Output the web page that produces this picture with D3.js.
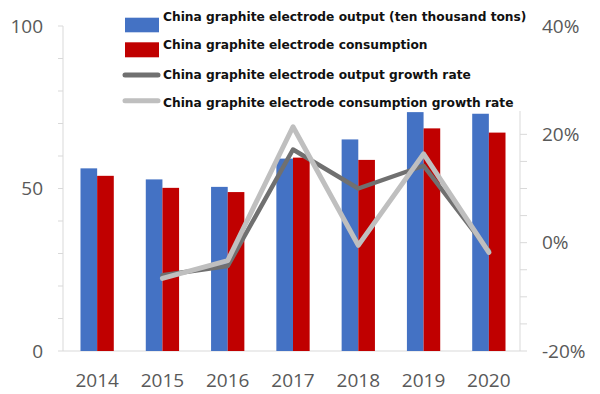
<!DOCTYPE html>
<html>
<head>
<meta charset="utf-8">
<script src="https://cdn.jsdelivr.net/npm/d3@7"></script>
<style>
  html, body { margin: 0; padding: 0; background: #fff; }
  svg { display: block; }
</style>
</head>
<body>
<svg id="chart" width="600" height="394"></svg>
<script>
const categories = ["2014", "2015", "2016", "2017", "2018", "2019", "2020"];
const outputValues = [56.2, 52.8, 50.5, 59.2, 65.1, 73.5, 73.0];
const consumptionValues = [53.9, 50.2, 48.9, 59.5, 58.8, 68.5, 67.2];
const outputGrowth = [null, -6.0, -4.3, 17.2, 10.0, 14.2, -1.5];
const consumptionGrowth = [null, -6.6, -3.3, 21.4, -0.5, 16.4, -1.8];
const leftTicks = [0, 50, 100];
const rightTicks = [-20, 0, 20, 40];
const seriesNames = [
  "China graphite electrode output (ten thousand tons)",
  "China graphite electrode consumption",
  "China graphite electrode output growth rate",
  "China graphite electrode consumption growth rate"
];
const colors = ["#4472C4", "#C00000", "#707070", "#BFBFBF"];

const svg = d3.select("#chart");
const plot = { left: 63, right: 520, top: 26, bottom: 351 };
const axisColor = "#d9d9d9";
const textColor = "#595959";
const axisFont = "'Open Sans', sans-serif";

const x = d3.scaleBand().domain(categories).range([plot.left, plot.right]).paddingInner(0).paddingOuter(0);
const yL = d3.scaleLinear().domain([0, 100]).range([plot.bottom, plot.top]);
const yR = d3.scaleLinear().domain([-20, 40]).range([plot.bottom, plot.top]);
const barW = x.bandwidth() * 0.255;

// Left axis
const gL = svg.append("g");
gL.append("line").attr("x1", plot.left).attr("x2", plot.left)
  .attr("y1", yL(100)).attr("y2", yL(0)).attr("stroke", axisColor).attr("stroke-width", 1);
gL.selectAll("line.tk").data(d3.range(0, 101, 10)).join("line").attr("class", "tk")
  .attr("x1", plot.left - 5).attr("x2", plot.left)
  .attr("y1", d => yL(d)).attr("y2", d => yL(d))
  .attr("stroke", axisColor);
gL.selectAll("text").data(leftTicks).join("text")
  .attr("x", 43).attr("y", d => yL(d)).attr("dy", "0.35em")
  .attr("text-anchor", "end").attr("font-family", axisFont).attr("font-size", 19)
  .attr("fill", textColor).text(d => d);

// Bottom axis line
svg.append("line").attr("x1", plot.left).attr("x2", plot.right)
  .attr("y1", plot.bottom).attr("y2", plot.bottom).attr("stroke", axisColor);

// Right axis
const gR = svg.append("g");
gR.append("line").attr("x1", plot.right).attr("x2", plot.right)
  .attr("y1", yR(40)).attr("y2", yR(-20)).attr("stroke", axisColor);
gR.selectAll("line.tk").data(d3.range(-20, 41, 5)).join("line").attr("class", "tk")
  .attr("x1", plot.right).attr("x2", plot.right + 7)
  .attr("y1", d => yR(d)).attr("y2", d => yR(d))
  .attr("stroke", axisColor);
gR.selectAll("text").data(rightTicks).join("text")
  .attr("x", 542).attr("y", d => yR(d)).attr("dy", "0.35em")
  .attr("text-anchor", "start").attr("font-family", axisFont).attr("font-size", 19)
  .attr("fill", textColor).text(d => d + "%");

// X labels
svg.selectAll("text.xl").data(categories).join("text").attr("class", "xl")
  .attr("x", d => x(d) + x.bandwidth() / 2 + 1.5).attr("y", 387)
  .attr("text-anchor", "middle").attr("font-family", axisFont).attr("font-size", 19)
  .attr("fill", textColor).text(d => d);

// Bars
const cx = d => x(d) + x.bandwidth() / 2 + 1.5;
svg.append("g").selectAll("rect").data(categories).join("rect")
  .attr("x", d => cx(d) - barW).attr("width", barW)
  .attr("y", (d, i) => yL(outputValues[i]))
  .attr("height", (d, i) => yL(0) - yL(outputValues[i]))
  .attr("fill", colors[0]);
svg.append("g").selectAll("rect").data(categories).join("rect")
  .attr("x", d => cx(d)).attr("width", barW)
  .attr("y", (d, i) => yL(consumptionValues[i]))
  .attr("height", (d, i) => yL(0) - yL(consumptionValues[i]))
  .attr("fill", colors[1]);

// Lines
const line = d3.line()
  .defined(d => d.v !== null)
  .x(d => cx(d.c)).y(d => yR(d.v));
svg.append("path")
  .datum(categories.map((c, i) => ({ c, v: outputGrowth[i] })))
  .attr("d", line).attr("fill", "none").attr("stroke", colors[2])
  .attr("stroke-width", 4.5).attr("stroke-linejoin", "round").attr("stroke-linecap", "round");
svg.append("path")
  .datum(categories.map((c, i) => ({ c, v: consumptionGrowth[i] })))
  .attr("d", line).attr("fill", "none").attr("stroke", colors[3])
  .attr("stroke-width", 5).attr("stroke-linejoin", "round").attr("stroke-linecap", "round");

// Legend
const lg = svg.append("g");
lg.append("rect").attr("x", 118).attr("y", 0).attr("width", 414).attr("height", 111).attr("fill", "#fff");
const rowsBase = [20.7, 49.3, 79, 107.3];
const swatchY = [[17.7, 32.3], [42.3, 57.3]];
const lineY = [75, 100.7];
// bar swatches
[0, 1].forEach(i => {
  lg.append("rect").attr("x", 125).attr("y", swatchY[i][0])
    .attr("width", 34).attr("height", swatchY[i][1] - swatchY[i][0]).attr("fill", colors[i]);
});
[0, 1].forEach(i => {
  lg.append("line").attr("x1", 125).attr("x2", 158).attr("y1", lineY[i]).attr("y2", lineY[i])
    .attr("stroke", colors[2 + i]).attr("stroke-width", 5).attr("stroke-linecap", "round");
});
const texts = lg.selectAll("text.lt").data(seriesNames).join("text").attr("class", "lt")
  .attr("x", 163).attr("y", (d, i) => rowsBase[i])
  .attr("font-family", "'DejaVu Sans', Verdana, sans-serif").attr("font-weight", "bold")
  .attr("font-size", 12).attr("fill", "#111").text(d => d);
// fit first label to measured width
const w0 = texts.nodes()[0].getComputedTextLength();
const fs = 12 * 364 / w0;
texts.attr("font-size", fs);
</script>
</body>
</html>
